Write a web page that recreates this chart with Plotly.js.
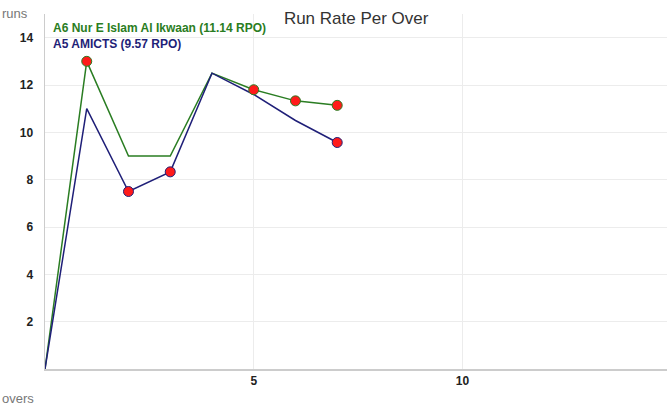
<!DOCTYPE html>
<html>
<head>
<meta charset="utf-8">
<script src="https://cdn.plot.ly/plotly-3.0.1.min.js"></script>
<style>html,body{margin:0;padding:0;background:#fff}#chart{width:667px;height:407px}</style>
</head>
<body>
<div id="chart"></div>
<script>
// Data
const overs = [0, 1, 2, 3, 4, 5, 6, 7];
const greenName = "A6 Nur E Islam Al Ikwaan (11.14 RPO)";
const greenRunRate = [0, 13, 9, 9, 12.5, 11.8, 11.33, 11.14];
const greenWicketOvers = [1, 5, 6, 7];
const blueName = "A5 AMICTS (9.57 RPO)";
const blueRunRate = [0, 11, 7.5, 8.33, 12.5, 11.6, 10.5, 9.57];
const blueWicketOvers = [2, 3, 7];
const yTicks = [2, 4, 6, 8, 10, 12, 14];
const xTicks = [5, 10];

const greenColor = "#2a7d22";
const blueColor = "#1f1f78";

function wicketPoints(wk, series) {
  return { x: wk, y: wk.map(o => series[overs.indexOf(o)]) };
}
const gw = wicketPoints(greenWicketOvers, greenRunRate);
const bw = wicketPoints(blueWicketOvers, blueRunRate);

const traces = [
  { x: overs, y: greenRunRate, mode: "lines", line: { color: greenColor, width: 1.5 }, name: greenName, hoverinfo: "skip" },
  { x: overs, y: blueRunRate, mode: "lines", line: { color: blueColor, width: 1.5 }, name: blueName, hoverinfo: "skip" },
  { x: gw.x, y: gw.y, mode: "markers", marker: { color: "#ff1a1a", size: 10, line: { color: greenColor, width: 1 } }, showlegend: false },
  { x: bw.x, y: bw.y, mode: "markers", marker: { color: "#ff1a1a", size: 10, line: { color: blueColor, width: 1 } }, showlegend: false }
];

const layout = {
  width: 667, height: 407,
  margin: { l: 45, r: 0, t: 14, b: 38 },
  paper_bgcolor: "#fff", plot_bgcolor: "#fff",
  font: { family: "Liberation Sans, Arial, sans-serif", size: 12, color: "#222" },
  showlegend: false,
  title: { text: "Run Rate Per Over", x: 0.534, xanchor: "center", y: 0.97, yanchor: "top", font: { size: 17, color: "#333" } },
  xaxis: {
    range: [0, 14.9], tickvals: xTicks, ticktext: xTicks.map(String),
    showgrid: true, gridcolor: "#ececec", gridwidth: 1,
    showline: true, linecolor: "#cccccc", linewidth: 1.5, zeroline: false,
    ticks: "", tickfont: { size: 12, color: "#222", weight: "bold" }, fixedrange: true
  },
  yaxis: {
    range: [0, 15], tickvals: yTicks, ticktext: yTicks.map(String),
    showgrid: true, gridcolor: "#ececec", gridwidth: 1,
    showline: true, linecolor: "#cccccc", linewidth: 1.5, zeroline: false,
    ticks: "", ticklabelstandoff: 8, tickfont: { size: 12, color: "#222", weight: "bold" }, fixedrange: true
  },
  annotations: [
    { text: greenName, xref: "paper", yref: "paper", x: 0.009, y: 0.985, xanchor: "left", yanchor: "top", showarrow: false, font: { size: 12, color: greenColor, weight: "bold" } },
    { text: blueName, xref: "paper", yref: "paper", x: 0.009, y: 0.94, xanchor: "left", yanchor: "top", showarrow: false, font: { size: 12, color: blueColor, weight: "bold" } },
    { text: "runs", xref: "paper", yref: "paper", x: -0.073, y: 1.028, xanchor: "left", yanchor: "top", showarrow: false, font: { size: 13, color: "#777" } },
    { text: "overs", xref: "paper", yref: "paper", x: -0.073, y: -0.056, xanchor: "left", yanchor: "top", showarrow: false, font: { size: 13, color: "#777" } }
  ]
};

Plotly.newPlot("chart", traces, layout, { displayModeBar: false, staticPlot: true });
</script>
</body>
</html>
